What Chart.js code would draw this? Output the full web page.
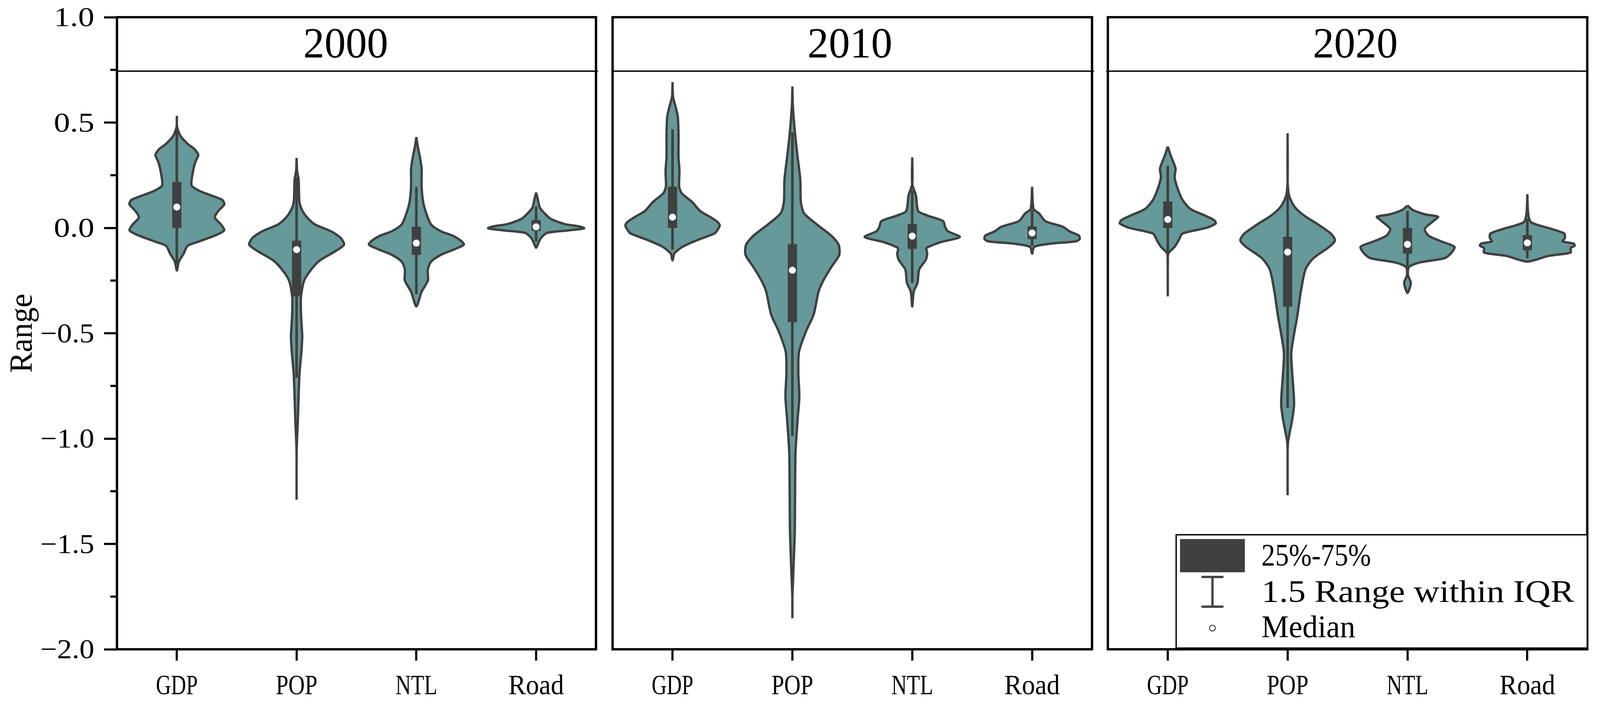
<!DOCTYPE html>
<html><head><meta charset="utf-8">
<style>html,body{margin:0;padding:0;background:#fff;overflow:hidden}
canvas{position:absolute;top:0}</style>
<script src="https://cdn.jsdelivr.net/npm/chart.js@4/dist/chart.umd.min.js"></script>
</head><body>
<canvas id="c0"></canvas><canvas id="c1"></canvas><canvas id="c2"></canvas>
<script>
const categories = ['GDP','POP','NTL','Road'];
const years = ['2000','2010','2020'];
const yAxisLabel = 'Range';
const yMajorStep = 0.5;
const yMinorTicks = [0.75,0.25,-0.25,-0.75,-1.25,-1.75];
const headerValue = 0.744;
const titleXValues = [1.41,1.48,1.565];
const titleYValue = 0.862;
const legendLabels = ['25%-75%','1.5 Range within IQR','Median'];

// violin outlines: value, half width (density)
const gdp2000Y = [.532,.484,.452,.431,.399,.373,.346,.314,.271,.202,.176,.154,.133,.112,.080,.050,.016,-.011,-.032,-.064,-.085,-.122,-.160,-.202];
const gdp2000W = [0,.01,.026,.046,.099,.158,.188,.164,.145,.132,.197,.296,.388,.405,.355,.326,.378,.405,.345,.197,.099,.066,.026,0];
const pop2000Y = [.332,.271,.229,.122,.080,.048,.016,-.016,-.048,-.080,-.112,-.154,-.197,-.250,-.325,-.41,-.516,-.589,-.694,-.80,-.907,-1.046,-1.173,-1.29];
const pop2000W = [0,.013,.026,.033,.059,.099,.164,.296,.378,.405,.329,.204,.132,.072,.046,.046,.056,.049,.033,.026,.02,.01,.005,0];
const ntl2000Y = [.431,.389,.335,.282,.197,.122,.069,.016,-.016,-.037,-.064,-.080,-.101,-.128,-.160,-.197,-.250,-.303,-.373];
const ntl2000W = [0,.02,.039,.053,.053,.066,.092,.132,.214,.313,.388,.405,.329,.214,.132,.105,.105,.053,0];
const road2000Y = [.168,.144,.096,.069,.043,.018,.007,-.002,-.012,-.024,-.048,-.069,-.094];
const road2000W = [0,.02,.04,.08,.13,.25,.37,.41,.28,.10,.05,.03,0];

const gdp2010Y = [.692,.623,.581,.528,.442,.335,.271,.197,.165,.122,.080,.048,.027,.011,-.016,-.027,-.059,-.090,-.122,-.154];
const gdp2010W = [0,.013,.032,.053,.059,.059,.067,.064,.085,.174,.24,.334,.387,.403,.377,.358,.211,.091,.024,0];
const pop2010Y = [.671,.58,.442,.335,.229,.122,.069,.016,-.037,-.080,-.128,-.186,-.250,-.303,-.41,-.495,-.589,-.694,-.801,-.907,-1.067,-1.227,-1.44,-1.652,-1.759,-1.853];
const pop2010W = [0,.013,.032,.053,.075,.08,.107,.214,.334,.395,.40,.334,.267,.227,.187,.12,.064,.059,.067,.053,.035,.032,.029,.016,.008,0];
const ntl2010Y = [.335,.208,.154,.080,.059,.032,.005,-.016,-.043,-.069,-.096,-.122,-.154,-.197,-.261,-.303,-.373];
const ntl2010W = [0,.008,.04,.059,.134,.267,.283,.307,.406,.24,.128,.134,.12,.067,.053,.021,0];
const road2010Y = [.195,.09,.069,.032,.005,-.016,-.037,-.053,-.064,-.075,-.09,-.122];
const road2010W = [0,.021,.067,.12,.267,.32,.40,.406,.374,.16,.027,0];

const gdp2020Y = [.386,.346,.282,.24,.186,.133,.09,.059,.037,.021,0,-.027,-.059,-.09,-.122,-.197,-.325];
const gdp2020W = [0,.032,.074,.066,.092,.132,.198,.317,.396,.409,.33,.132,.1,.066,.013,.008,0];
const pop2020Y = [.449,.229,.154,.101,.059,.016,-.027,-.059,-.09,-.144,-.197,-.303,-.41,-.589,-.694,-.833,-.907,-1.014,-1.067,-1.269];
const pop2020W = [0,.008,.021,.066,.145,.264,.37,.404,.356,.224,.158,.119,.092,.04,.048,.063,.048,.013,.005,0];
const ntl2020Y = [.106,.085,.064,.053,.032,-.005,-.037,-.064,-.09,-.122,-.144,-.165,-.186,-.224,-.261,-.309];
const ntl2020W = [0,.053,.158,.264,.224,.153,.185,.29,.401,.37,.317,.106,.021,.013,.037,0];
const road2020Y = [.16,.069,.027,-.005,-.027,-.048,-.064,-.075,-.085,-.096,-.117,-.133,-.16];
const road2020W = [0,.016,.04,.211,.317,.322,.304,.396,.404,.37,.37,.185,0];

// box statistics per category
const q1_2000 = [0,-.325,-.128,-.014];
const q3_2000 = [.218,-.061,.005,.037];
const median_2000 = [.099,-.103,-.072,.005];
const whiskerLow_2000 = [-.17,-.71,-.314,-.064];
const whiskerHigh_2000 = [.47,.24,.194,.101];

const q1_2010 = [0,-.447,-.099,-.053];
const q3_2010 = [.195,-.078,.018,.007];
const median_2010 = [.051,-.201,-.039,-.024];
const whiskerLow_2010 = [-.103,-.987,-.261,-.085];
const whiskerHigh_2010 = [.468,.452,.176,.085];

const q1_2020 = [0,-.373,-.122,-.106];
const q3_2020 = [.125,-.043,0,-.035];
const median_2020 = [.04,-.115,-.078,-.071];
const whiskerLow_2020 = [-.133,-.854,-.186,-.144];
const whiskerHigh_2020 = [.293,.176,.08,.043];

const violins = [
  [[gdp2000Y,gdp2000W],[pop2000Y,pop2000W],[ntl2000Y,ntl2000W],[road2000Y,road2000W]],
  [[gdp2010Y,gdp2010W],[pop2010Y,pop2010W],[ntl2010Y,ntl2010W],[road2010Y,road2010W]],
  [[gdp2020Y,gdp2020W],[pop2020Y,pop2020W],[ntl2020Y,ntl2020W],[road2020Y,road2020W]]
];
const boxes = [
  [q1_2000,q3_2000,median_2000,whiskerLow_2000,whiskerHigh_2000],
  [q1_2010,q3_2010,median_2010,whiskerLow_2010,whiskerHigh_2010],
  [q1_2020,q3_2020,median_2020,whiskerLow_2020,whiskerHigh_2020]
];

const FONT = '"Liberation Serif", serif';
const VIOLIN = '#669999', DARK = '#404040';
const TICK_FONT_Y = 70, TICK_FONT_X = 72;
// the browser window may be narrower than the reference: fit the width to it
const kx = Math.min(1, (window.innerWidth || 4145) / 4145);
const layoutPanels = [
  {left:0,    right:1565, areaLeft:303,  areaRight:1544, headL:0, headR:5},
  {left:1565, right:2850, areaLeft:1587, areaRight:2829, headL:0, headR:5},
  {left:2850, right:4145, areaLeft:2870, areaRight:4112, headL:4, headR:0}
].map(p=>({...p,
  left:Math.round(p.left*kx), width:Math.round(p.right*kx)-Math.round(p.left*kx),
  areaLeft:p.areaLeft*kx, areaRight:p.areaRight*kx}));
const areaTop = 44, areaBottom = 1661;

// SimSun-like half-width text: fit every string to half an em per character
function condenseText(ctx){
  const raw = ctx.fillText.bind(ctx);
  ctx.fillText = function(t,x,y){
    const m = /([\d.]+)px/.exec(ctx.font);
    const fs = m ? parseFloat(m[1]) : 10;
    const w = ctx.measureText(t).width || 1;
    const sx = kx*(String(t).length*fs*0.5)/w;
    const dy = (fs===TICK_FONT_Y && ctx.textAlign==='right') ? 5 : 0;
    ctx.save(); ctx.translate(x,y+dy); ctx.scale(sx,1); raw(t,0,0); ctx.restore();
  };
}

// half widths were read at the outer edge of the stroke
const strokeInset = 0.009;
function outline(center,ys,ws){
  const pts=[];
  const w = i => Math.max(0, ws[i]-strokeInset);
  for(let i=0;i<ys.length;i++) pts.push({x:center+w(i),y:ys[i]});
  for(let i=ys.length-2;i>=0;i--) pts.push({x:center-w(i),y:ys[i]});
  return pts;
}

const framePlugin = {
  id:'frame',
  afterDatasetsDraw(chart,args,o){
    const {ctx,chartArea:a,scales:{x,y}} = chart;
    const p = layoutPanels[o.panel];
    ctx.save();
    ctx.strokeStyle='#000'; ctx.lineCap='butt'; ctx.lineJoin='miter';
    ctx.lineWidth=6;
    ctx.strokeRect(a.left,a.top,a.right-a.left,a.bottom-a.top);
    ctx.lineWidth=3.5;
    const hy=y.getPixelForValue(headerValue);
    ctx.beginPath(); ctx.moveTo(a.left-p.headL,hy); ctx.lineTo(a.right+p.headR,hy); ctx.stroke();
    if(o.panel===0){
      ctx.lineWidth=5.5;
      yMinorTicks.forEach(v=>{const py=y.getPixelForValue(v);
        ctx.beginPath(); ctx.moveTo(a.left,py); ctx.lineTo(a.left-17,py); ctx.stroke();});
    }
    ctx.fillStyle='#000'; ctx.font='110px '+FONT; ctx.textAlign='center'; ctx.textBaseline='middle';
    ctx.fillText(years[o.panel],x.getPixelForValue(titleXValues[o.panel]),y.getPixelForValue(titleYValue));
    if(o.panel===2){
      const lx = v => v*kx - p.left;
      ctx.fillStyle='#fff'; ctx.strokeStyle='#000'; ctx.lineWidth=3.5;
      ctx.fillRect(lx(3047),1368,lx(4112)-lx(3047),290);
      ctx.strokeRect(lx(3047),1368,lx(4112)-lx(3047),290);
      ctx.lineWidth=6;
      ctx.beginPath(); ctx.moveTo(lx(3047),1661); ctx.lineTo(lx(4112),1661); ctx.stroke();
      ctx.fillStyle=DARK; ctx.fillRect(lx(3057),1379,168*kx,85);
      ctx.strokeStyle='#444'; ctx.lineWidth=6; ctx.lineCap='round';
      ctx.beginPath();
      ctx.moveTo(lx(3115),1476);ctx.lineTo(lx(3167),1476);
      ctx.moveTo(lx(3141),1476);ctx.lineTo(lx(3141),1552);
      ctx.moveTo(lx(3115),1552);ctx.lineTo(lx(3167),1552);
      ctx.stroke();
      ctx.fillStyle='#fff'; ctx.lineWidth=2.5;
      ctx.beginPath(); ctx.arc(lx(3141),1607,7.5,0,Math.PI*2); ctx.fill(); ctx.stroke();
      ctx.fillStyle='#000'; ctx.font='81px '+FONT; ctx.textAlign='left'; ctx.textBaseline='middle';
      [1424,1517,1607].forEach((ty,i)=>ctx.fillText(legendLabels[i],lx(3268),ty+2));
    }
    ctx.restore();
  }
};

years.forEach((yr,pi)=>{
  const p = layoutPanels[pi];
  const cv = document.getElementById('c'+pi);
  cv.width=p.width; cv.height=1801;
  cv.style.left=p.left+'px'; cv.style.width=p.width+'px'; cv.style.height='1801px';
  const ctx = cv.getContext('2d');
  condenseText(ctx);
  const [q1,q3,med,wl,wh] = boxes[pi];
  const datasets = [];
  violins[pi].forEach((v,i)=>datasets.push({
    type:'scatter', label:categories[i]+' '+yr, showLine:true, indexAxis:'y',
    data:outline(i,v[0],v[1]), fill:'shape', backgroundColor:VIOLIN, borderColor:DARK,
    borderWidth:6, pointRadius:0, tension:0.25, order:4, clip:false
  }));
  datasets.push({type:'bar',label:'whisker',grouped:false,order:3,backgroundColor:DARK,barThickness:6,
    data:categories.map((c,i)=>({x:i,y:[wl[i],wh[i]]}))});
  datasets.push({type:'bar',label:'IQR',grouped:false,order:2,backgroundColor:DARK,barThickness:23,borderRadius:2,borderSkipped:false,
    data:categories.map((c,i)=>({x:i,y:[q1[i],q3[i]]}))});
  datasets.push({type:'scatter',label:'median',order:1,showLine:false,pointRadius:9,pointBackgroundColor:'#fff',pointBorderWidth:0,
    data:categories.map((c,i)=>({x:i,y:med[i]}))});
  new Chart(ctx,{
    type:'scatter',
    data:{datasets},
    plugins:[framePlugin],
    options:{
      responsive:false, animation:false, devicePixelRatio:1, events:[],
      layout:{padding:{top:areaTop,left:pi===0?0:p.areaLeft-p.left,right:p.left+p.width-p.areaRight,bottom:0}},
      plugins:{legend:{display:false},tooltip:{enabled:false},frame:{panel:pi}},
      scales:{
        x:{type:'linear',position:'bottom',min:-0.5,max:3.5,offset:false,
          afterBuildTicks(s){s.ticks=categories.map((c,i)=>({value:i}));},
          afterFit(s){s.height=1801-areaBottom;s.paddingLeft=0;s.paddingRight=0;},
          border:{display:false},
          grid:{offset:false,drawOnChartArea:false,drawTicks:true,tickLength:29,tickWidth:5.5,tickColor:'#000'},
          ticks:{autoSkip:false,maxRotation:0,minRotation:0,padding:24,color:'#000',
            font:{family:FONT,size:TICK_FONT_X},callback:(v)=>categories[v]}
        },
        y:{type:'linear',position:'left',min:-2,max:1,display:pi===0,
          afterFit(s){s.width=pi===0?p.areaLeft:0;s.paddingTop=0;s.paddingBottom=0;},
          border:{display:false},
          grid:{drawOnChartArea:false,drawTicks:true,tickLength:33,tickWidth:5.5,tickColor:'#000'},
          title:{display:pi===0,text:yAxisLabel,color:'#000',font:{family:FONT,size:82},padding:{top:10,bottom:0}},
          ticks:{stepSize:yMajorStep,padding:25,color:'#000',font:{family:FONT,size:TICK_FONT_Y},
            callback:(v)=>v.toFixed(1).replace('-','\u2212')}
        }
      }
    }
  });
});
</script>
</body></html>
